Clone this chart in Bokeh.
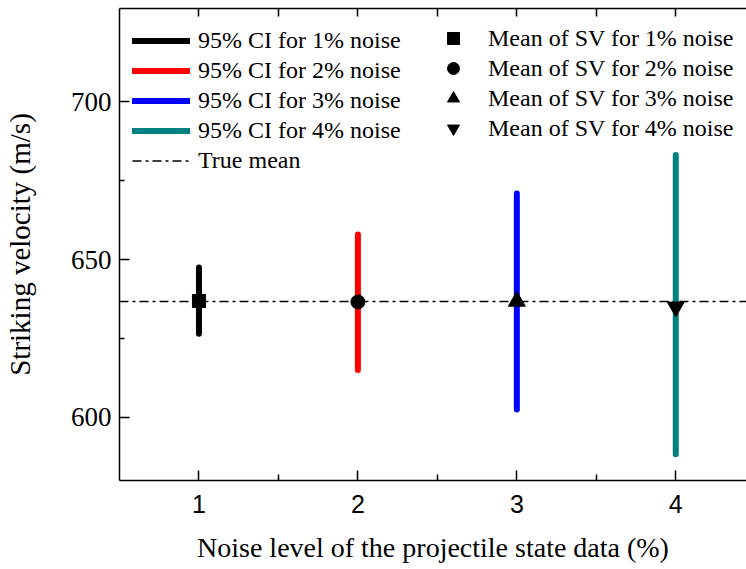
from bokeh.plotting import figure
from bokeh.models import (Range1d, LinearAxis, FixedTicker, Legend, LegendItem,
                          ColumnDataSource)
from bokeh.embed import file_html
from bokeh.resources import INLINE

# ---- data ----
noise_levels = [1, 2, 3, 4]
ci_low = [626.5, 615.0, 602.5, 588.3]
ci_high = [647.5, 658.0, 671.0, 683.2]
mean_sv = [636.9, 636.6, 636.8, 635.0]
true_mean = 636.7
ci_colors = ["#000000", "#ff0000", "#0000ff", "#008080"]
ci_labels = ["95% CI for 1% noise", "95% CI for 2% noise",
             "95% CI for 3% noise", "95% CI for 4% noise"]
mean_labels = ["Mean of SV for 1% noise", "Mean of SV for 2% noise",
               "Mean of SV for 3% noise", "Mean of SV for 4% noise"]
mean_markers = ["square", "circle", "triangle", "inverted_triangle"]
mean_sizes = [13, 14, 17, 17]
x_ticks = [1, 2, 3, 4]
x_minor = [1.5, 2.5, 3.5]
y_ticks = [600, 650, 700]
y_minor = [625, 675]

X_START, X_END = 0.5, 4.445
Y_START, Y_END = 580, 729.6

SERIF = "Liberation Serif"
SANS = "Liberation Sans"

p = figure(width=746, height=569, output_backend="svg", toolbar_location=None,
           x_range=Range1d(X_START, X_END), y_range=Range1d(Y_START, Y_END),
           x_axis_location=None, y_axis_location=None,
           min_border_left=117, min_border_right=0, min_border_top=8,
           min_border_bottom=89)
p.outline_line_color = None
p.grid.visible = False
p.background_fill_color = "white"
p.border_fill_color = "white"

def style_axis(ax):
    ax.axis_line_width = 1.5
    ax.major_tick_line_width = 1.5
    ax.minor_tick_line_width = 1.5
    ax.axis_line_color = "black"
    ax.major_tick_line_color = "black"
    ax.minor_tick_line_color = "black"
    ax.major_tick_out = 0
    ax.minor_tick_out = 0

xaxis = LinearAxis(ticker=FixedTicker(ticks=x_ticks, minor_ticks=x_minor),
                   axis_label="Noise level of the projectile state data (%)")
style_axis(xaxis)
xaxis.major_tick_in = 10
xaxis.minor_tick_in = 6
xaxis.major_label_text_font = SANS
xaxis.major_label_text_font_size = "25px"
xaxis.major_label_text_color = "black"
xaxis.major_label_standoff = 14
xaxis.axis_label_text_font = SERIF
xaxis.axis_label_text_font_style = "normal"
xaxis.axis_label_text_font_size = "28px"
xaxis.axis_label_text_color = "black"
xaxis.axis_label_standoff = 16
p.add_layout(xaxis, "below")

topaxis = LinearAxis(ticker=FixedTicker(ticks=x_ticks, minor_ticks=x_minor))
style_axis(topaxis)
topaxis.major_tick_in = 8
topaxis.minor_tick_in = 8
topaxis.major_label_text_font_size = "0px"
topaxis.major_label_text_color = None
topaxis.major_label_standoff = 0
p.add_layout(topaxis, "above")

yaxis = LinearAxis(ticker=FixedTicker(ticks=y_ticks, minor_ticks=y_minor),
                   axis_label="Striking velocity (m/s)")
style_axis(yaxis)
yaxis.major_tick_in = 10
yaxis.minor_tick_in = 5
yaxis.major_label_text_font = SERIF
yaxis.major_label_text_font_size = "27px"
yaxis.major_label_text_color = "black"
yaxis.major_label_standoff = 8
yaxis.axis_label_text_font = SERIF
yaxis.axis_label_text_font_style = "normal"
yaxis.axis_label_text_font_size = "29px"
yaxis.axis_label_text_color = "black"
yaxis.axis_label_standoff = 32
p.add_layout(yaxis, "left")

# true mean
tm = p.line(x=[X_START, X_END], y=[true_mean, true_mean], line_color="black",
            line_width=1.5, line_dash="9 4 3 4")

ci_renderers = []
for i in range(4):
    src = ColumnDataSource(dict(x0=[noise_levels[i]], y0=[ci_low[i]],
                                x1=[noise_levels[i]], y1=[ci_high[i]]))
    r = p.segment(x0="x0", y0="y0", x1="x1", y1="y1", source=src,
                  line_color=ci_colors[i], line_width=6, line_cap="round")
    ci_renderers.append(r)

mean_renderers = []
for i in range(4):
    r = p.scatter(x=[noise_levels[i]], y=[mean_sv[i]], marker=mean_markers[i],
                  size=mean_sizes[i], fill_color="black", line_color="black")
    mean_renderers.append(r)

left_items = [LegendItem(label=ci_labels[i], renderers=[ci_renderers[i]]) for i in range(4)]
left_items.append(LegendItem(label="True mean", renderers=[tm]))
leg1 = Legend(items=left_items, location=(13, 305), glyph_width=58,
              glyph_height=29, label_height=29, spacing=1, padding=0, margin=0,
              label_standoff=8, label_text_font=SERIF, label_text_font_size="24px",
              label_text_color="black", border_line_color=None,
              background_fill_alpha=0)
p.add_layout(leg1)

right_items = [LegendItem(label=mean_labels[i], renderers=[mean_renderers[i]]) for i in range(4)]
leg2 = Legend(items=right_items, location=(319, 337), glyph_width=30,
              glyph_height=30, label_height=30, spacing=0, padding=0, margin=0,
              label_standoff=20, label_text_font=SERIF, label_text_font_size="24px",
              label_text_color="black", border_line_color=None,
              background_fill_alpha=0)
p.add_layout(leg2)

open("out.html", "w").write(file_html(p, INLINE))
